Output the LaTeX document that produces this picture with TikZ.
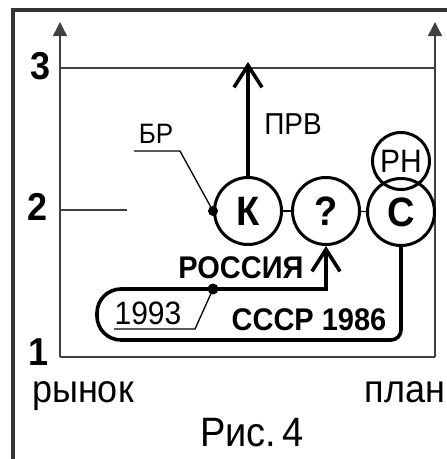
\documentclass[tikz,border=0pt]{standalone}
\usepackage{fontspec}
\setmainfont{Liberation Sans}
\usetikzlibrary{arrows.meta}
\newcommand{\tall}[1]{\scalebox{1}[1.08]{#1}}

\begin{document}
\begin{tikzpicture}[x=1pt,y=-1pt,axis/.style={line width=1.4pt,black!75},thin line/.style={line width=1.3pt},thick line/.style={line width=3.6pt},barb/.style={-{Straight Barb[length=22pt,width=28pt]}},bub/.style={draw,circle,line width=3pt,minimum size=67pt,inner sep=0pt,font=\bfseries\fontsize{38}{38}\selectfont},lvl/.style={font=\bfseries\fontsize{36}{36}\selectfont,inner sep=0pt},lbl/.style={font=\fontsize{28}{28}\selectfont,inner sep=0pt},bold lbl/.style={font=\bfseries\fontsize{29}{29}\selectfont,inner sep=0pt},big/.style={font=\fontsize{36}{36}\selectfont,inner sep=0pt,anchor=base}]
\useasboundingbox (0,0) rectangle (447,459);
\draw[line width=3.5pt,black!80] (13,480) -- (13,10) -- (470,10);
% axes
\coordinate (o) at (60,357);\coordinate (e) at (435,357);
\draw[axis,-{Triangle[length=14pt,width=14pt]}] (o) -- (60,22);
\draw[axis,-{Triangle[length=14pt,width=14pt]}] (e) -- (435,22);
\draw[axis] (o) -- (e);\draw[axis] (60,68) -- (435,68);\draw[axis] (60,210) -- (127,210);
\node[lvl] (n3) at (41,66){\tall{3}};
\node[lvl] (n2) at (38,207){\tall{2}};
\node[lvl] (n1) at (39,352){\tall{1}};
\node[big] (market) at (83,402){\tall{рынок}};
\node[big] (plan) at (405,402){\tall{план}};
\node[big,font=\fontsize{38}{38}\selectfont] (fig) at (252,446){\tall{Рис.\,4}};
% circles
\node[bub] (k) at (248,211){\tall{К}};
\node[bub] (q) at (326,211){\tall{?}};
\node[bub] (s) at (401,212){\tall{С}};
\node[bub,minimum size=57pt,font=\fontsize{30}{30}\selectfont] (rn) at (401,161){\tall{РН}};
\draw[thin line] (k) -- (q);\draw[thin line] (q) -- (s);
% ПРВ
\coordinate (prv tip) at (248,62);
\draw[thick line,barb] (k) -- (prv tip);
\node[lbl] (prv) at (293,124){\tall{ПРВ}};
% БР
\node[lbl,font=\fontsize{26}{26}\selectfont] (br) at (156,134){\tall{БР}};
\fill (k.west) circle[radius=5pt];
\draw[thin line] (k.west) -- (180,151) -- (134,151);
% path of the country
\coordinate (rdot) at (213,289);
\draw[thick line,barb] (s.south) [rounded corners=10pt] -- (401,340) [rounded corners=24pt] -- (97,340) -- (97,289) [sharp corners] -- (326,289) -- (q.south);
\fill (rdot) circle[radius=5.5pt];
\draw[thin line] (rdot) -- (195,329) -- (114,329);
\node[lbl,font=\fontsize{30}{30}\selectfont] (y93) at (148,313){\tall{1993}};
\node[bold lbl] (russia) at (241,268){\tall{РОССИЯ}};
\node[bold lbl] (ussr) at (309,320){\tall{СССР 1986}};
\end{tikzpicture}
\end{document}
